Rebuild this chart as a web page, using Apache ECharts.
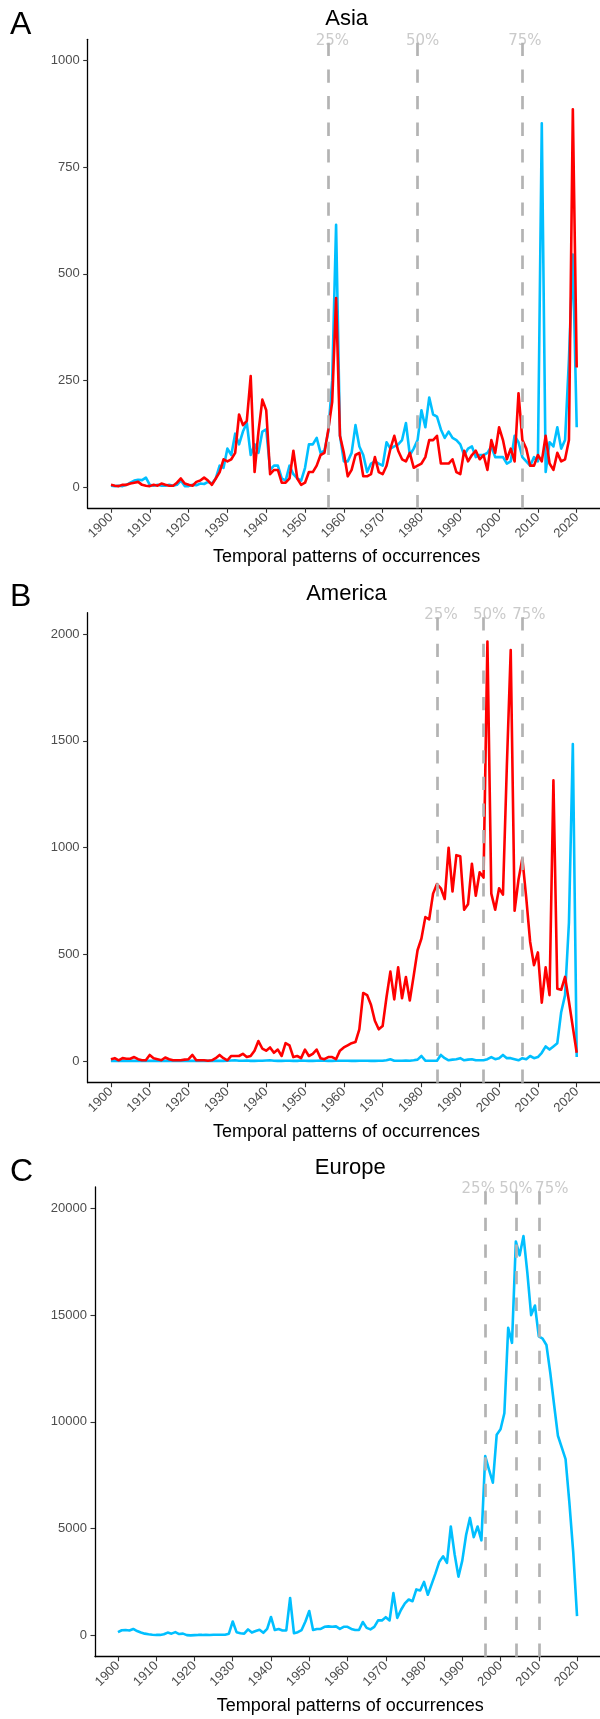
<!DOCTYPE html>
<html>
<head>
<meta charset="utf-8">
<script src="https://cdn.jsdelivr.net/npm/echarts@6/dist/echarts.min.js"></script>
<style>
html,body{margin:0;padding:0;background:#fff;}
#chart{width:600px;height:1719px;}
</style>
</head>
<body>
<div id="chart"></div>
<script>
// ---------- DATA ----------
var startYear = 1900;
var xTicks = [1900,1910,1920,1930,1940,1950,1960,1970,1980,1990,2000,2010,2020];
var quantileLabels = ['25%','50%','75%'];

// Panel A: Asia
var asiaBlue = [3,2,3,2,5,10,15,17,16,22, 5,3,5,3,3,5,3,5,15,2, 2,5,4,8,7,12,8,20,50,45,
  90,75,125,100,130,150,75,100,80,130, 135,40,50,50,20,15,50,30,20,15, 45,100,100,115,80,85,130,250,615,120,
  60,60,80,145,95,75,35,55,60,55, 50,105,90,95,100,110,150,75,90,110, 180,140,210,170,165,135,115,130,115,110,
  100,75,90,95,70,75,75,80,95,70, 70,70,55,60,120,105,70,60,50,70, 60,853,35,105,95,140,90,110,300,545, 140];
var asiaRed = [5,3,2,5,5,8,10,12,5,3, 2,5,3,8,5,3,3,10,20,8, 5,3,12,15,22,15,5,20,35,65,
  60,65,80,170,145,155,260,35,130,205, 180,30,40,40,10,10,20,85,20,5, 10,35,35,50,75,80,135,200,443,120,
  80,25,40,75,80,25,25,30,70,35, 30,50,90,120,85,65,60,80,45,50, 55,70,110,110,120,55,55,55,65,35,
  30,85,60,75,85,65,75,40,110,80, 140,110,65,90,60,220,110,90,50,50, 75,60,120,55,40,80,60,65,110,886, 280];
var asiaYTicks = [0,250,500,750,1000];
var asiaQuantiles = [1956,1979,2006];

// Panel B: America
var americaBlue = [2,2,2,2,2,2,2,2,2,2, 2,2,2,2,2,2,2,2,2,2, 2,2,2,2,2,2,2,2,2,2,
  3,4,5,3,3,4,2,2,3,3, 4,5,3,2,2,3,3,2,2,4, 3,2,2,3,4,3,2,2,3,3,
  3,3,2,2,3,3,3,2,2,3, 3,5,10,3,3,3,4,3,5,8, 25,3,3,3,3,30,15,5,8,10,
  15,5,8,10,5,5,5,10,20,10, 15,30,15,15,10,5,15,10,25,15, 20,40,70,55,70,85,230,310,650,1485, 20];
var americaRed = [10,15,5,15,12,12,20,10,5,5, 30,15,10,5,18,10,5,5,5,8, 10,30,5,5,5,3,5,15,30,15,
  5,25,25,25,35,20,25,50,95,60, 50,65,40,55,25,85,75,20,25,15, 55,25,35,55,15,10,20,20,10,50,
  65,75,85,90,150,320,310,265,190,150, 165,300,420,290,440,295,395,285,400,520, 575,675,665,785,830,810,760,1000,795,965,
  960,710,735,925,775,885,860,1965,785,710, 810,780,1380,1925,705,850,950,765,560,450, 510,275,440,310,1315,340,335,395,280,160, 40];
var americaYTicks = [0,500,1000,1500,2000];
var americaQuantiles = [1984,1996,2006];

// Panel C: Europe
var europeBlue = [150,240,250,230,300,200,130,80,50,30, 20,20,50,130,80,150,60,80,10,0, 10,20,20,30,20,30,30,30,30,80,
  650,150,100,80,280,130,200,260,120,300, 860,250,300,230,230,1750,100,150,250,650, 1140,250,300,300,400,420,400,420,300,400,
  400,300,250,250,625,350,280,400,700,700, 850,700,1980,820,1200,1500,1680,1600,2150,2100, 2500,1900,2400,2900,3450,3700,3400,5100,3800,2750,
  3500,4700,5500,4600,5100,4450,8400,7750,7150,9400, 9650,10400,14400,13700,18450,17800,18700,17000,15000,15450, 14000,13900,13600,12300,10800,9350,8800,8250,6200,3900, 900];
var europeYTicks = [0,5000,10000,15000,20000];
var europeQuantiles = [1996,2004,2010];

// ---------- BUILD ----------
function pairs(vals){ return vals.map(function(v,i){ return [startYear+i, v]; }); }
function plain(v){ return String(v); }

var BLUE = '#00BFFF', RED = '#FF0000', DASH = '#b3b3b3';
var panels = [
  {series:[asiaBlue, asiaRed], colors:[BLUE, RED], yTicks:asiaYTicks, q:asiaQuantiles, ymin:-50, ymax:1050,
   labelDx:[4,5,2.5], grid:{left:87.7, top:39.3, width:517.8, height:469}},
  {series:[americaBlue, americaRed], colors:[BLUE, RED], yTicks:americaYTicks, q:americaQuantiles, ymin:-100, ymax:2100,
   labelDx:[4,6,6.5], grid:{left:87.6, top:612.7, width:517.9, height:470}},
  {series:[europeBlue], colors:[BLUE], yTicks:europeYTicks, q:europeQuantiles, ymin:-1000, ymax:21000,
   labelDx:[-7,0,13], grid:{left:95, top:1187, width:510.7, height:469.7}}
];

var grids=[], xAxes=[], yAxes=[], series=[];
var axisColor = '#000';
var tickFont = 'Liberation Sans, Arial, sans-serif';
panels.forEach(function(p, i){
  grids.push(p.grid);
  xAxes.push({
    type:'value', gridIndex:i, min:1894, max:2026,
    axisLine:{show:true, onZero:false, lineStyle:{color:axisColor, width:1.3}},
    axisTick:{show:true, length:4.5, customValues:xTicks, lineStyle:{color:'#333', width:1.1}},
    axisLabel:{show:true, customValues:xTicks, formatter:plain, rotate:45, margin:7, color:'#4d4d4d', fontSize:13, fontFamily:tickFont},
    splitLine:{show:false}
  });
  yAxes.push({
    type:'value', gridIndex:i, min:p.ymin, max:p.ymax,
    axisLine:{show:true, onZero:false, lineStyle:{color:axisColor, width:1.3}},
    axisTick:{show:true, length:4.5, customValues:p.yTicks, lineStyle:{color:'#333', width:1.1}},
    axisLabel:{show:true, customValues:p.yTicks, formatter:plain, margin:8, color:'#4d4d4d', fontSize:13, fontFamily:tickFont},
    splitLine:{show:false}
  });
  // quantile dashed lines + labels
  series.push({
    type:'scatter', xAxisIndex:i, yAxisIndex:i, symbolSize:0, clip:false, silent:true, z:1,
    data:p.q.map(function(yr, k){
      return {name:quantileLabels[k], value:[yr, p.ymax], label:{offset:[p.labelDx[k], 2]}};
    }),
    label:{show:true, position:'inside', formatter:'{b}', color:'#bdbdbd', fontSize:15, fontFamily:'DejaVu Sans, sans-serif'},
    markLine:{
      silent:true, symbol:['none','none'], animation:false,
      label:{show:false},
      lineStyle:{color:DASH, width:2.7, type:[13.3,13.3]},
      data:p.q.map(function(yr){ return [{coord:[yr, p.ymin]},{coord:[yr, p.ymax]}]; })
    }
  });
  p.series.forEach(function(vals, k){
    series.push({
      type:'line', xAxisIndex:i, yAxisIndex:i, data:pairs(vals), showSymbol:false, symbol:'none',
      z:2+k, lineStyle:{color:p.colors[k], width:2.6, join:'round'}, itemStyle:{color:p.colors[k]}
    });
  });
});

function txt(t, x, y, size, color, family, align){
  return {type:'text', x:x, y:y, silent:true,
    style:{text:t, fill:color||'#000', fontSize:size, fontFamily:family||'Liberation Sans, Arial, sans-serif',
      align:align||'center', verticalAlign:'middle'}};
}
var graphics = [
  txt('A', 10, 25, 32, '#000', null, 'left'),
  txt('Asia', 346.6, 18.5, 22),
  txt('Temporal patterns of occurrences', 346.6, 557.5, 18),
  txt('B', 10, 597, 32, '#000', null, 'left'),
  txt('America', 346.5, 593.5, 22),
  txt('Temporal patterns of occurrences', 346.5, 1132, 18),
  txt('C', 10, 1172, 32, '#000', null, 'left'),
  txt('Europe', 350.3, 1168, 22),
  txt('Temporal patterns of occurrences', 350.3, 1706, 18)
];

var chart = echarts.init(document.getElementById('chart'), null, {renderer:'canvas'});
chart.setOption({
  animation:false,
  backgroundColor:'#fff',
  grid:grids, xAxis:xAxes, yAxis:yAxes, series:series, graphic:graphics
});
</script>
</body>
</html>
